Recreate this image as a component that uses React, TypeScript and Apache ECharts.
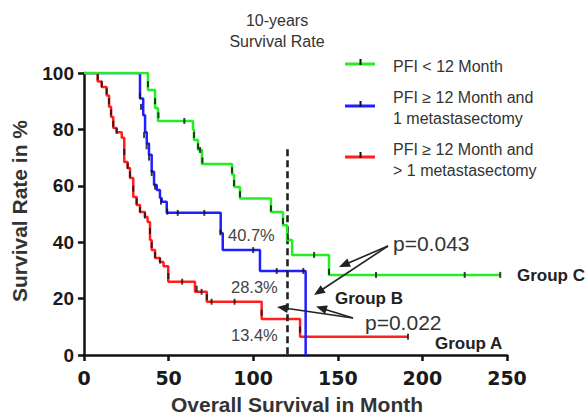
import React, { useEffect, useRef } from "react";
import * as echarts from "echarts";

// ---------- data ----------
const xTicks = [0, 50, 100, 150, 200, 250];
const yTicks = [0, 20, 40, 60, 80, 100];

// Group C: PFI < 12 Month (green)
const greenTimes = [0, 37.8, 42, 43.7, 64.4, 65, 67.4, 69.7, 87.5, 88.7, 92.2, 110.5, 117.6, 120, 123, 144.8, 246];
const greenSurv = [100, 94, 87.6, 83, 80, 76.2, 72.7, 67.7, 64, 59.6, 55.5, 50.7, 46, 40.8, 35.5, 28.4, 28.4];
const greenCensT = [37.8, 42, 44, 59.3, 65, 67.4, 68.6, 70, 87.5, 88.7, 92.2, 110.5, 117.6, 120.5, 136, 144.8, 172.6, 225, 246];
const greenCensS = [96, 90, 85, 83, 78, 74, 72.7, 69, 65.5, 61, 57, 52, 47.5, 42, 35.5, 29.5, 28.4, 28.4, 28.4];

// Group B: PFI >= 12 Month and 1 metastasectomy (blue)
const blueTimes = [0, 33.1, 35, 36.1, 37.1, 38.4, 40, 41.4, 43, 44.9, 45.9, 48.9, 80.8, 82, 104, 131];
const blueSurv = [100, 91, 85, 79, 75, 71, 65, 60.3, 58.5, 55.7, 54.3, 50.4, 43.3, 37.2, 29.8, 0];
const blueCensT = [33.1, 33.7, 35.5, 37, 38.4, 40, 42, 45.5, 49.2, 55.4, 71.1, 80.6, 100, 113.9, 129.6];
const blueCensS = [92, 88, 78, 74, 70, 64.5, 59.7, 54.4, 50.8, 50.4, 50.4, 43.5, 37.2, 29.8, 29.8];

// Group A: PFI >= 12 Month and > 1 metastasectomy (red)
const redTimes = [0, 8.1, 10.5, 13.4, 14.8, 16, 17.3, 19.3, 22.3, 23.8, 25.8, 27.2, 29.1, 31.1, 33.1, 36, 37.6, 39, 40, 42, 44.9, 47, 49.8, 65.6, 72.6, 105, 127.7, 191.5];
const redSurv = [100, 97, 95, 92, 88, 84.4, 80.5, 79, 77, 68.4, 66.3, 62.8, 56, 53.2, 50.7, 48.9, 47.2, 40.8, 37.2, 34.4, 33, 31.5, 26, 22.4, 18.9, 12.8, 6.5, 6.5];
const redCensT = [8.1, 10.5, 13.4, 14.8, 16, 17.3, 19.3, 23.8, 25.8, 27.2, 29.1, 31.1, 33.1, 36, 39, 40, 42, 44.9, 49.8, 58, 66.6, 69.5, 72.6, 75.4, 89, 105, 127.7, 191.5];
const redCensS = [98.5, 96, 93.5, 90, 86, 82, 79.5, 72, 67, 64, 59, 54.5, 51.5, 49.5, 44, 39, 35.5, 33.5, 28, 26, 23.5, 22.4, 20.5, 18.9, 18.9, 15, 9, 6.5];

const refMonth = 120;
const refTop = 73;

const legendNames = ["PFI < 12 Month", "PFI \u2265 12 Month and\n1 metastasectomy", "PFI \u2265 12 Month and\n> 1 metastasectomy"];
const rateLabels = ["40.7%", "28.3%", "13.4%"];
const pLabels = ["p=0.043", "p=0.022"];
const groupLabels = ["Group C", "Group B", "Group A"];

const GREEN = "#22ee22";
const BLUE = "#1f1fff";
const RED = "#ff1f1f";
const FONT = '"Liberation Sans", Arial, Helvetica, sans-serif';
const WIDE_FONT = '"DejaVu Sans", "Liberation Sans", Arial, sans-serif';

const zip = (a: number[], b: number[]) => a.map((v, i) => [v, b[i]]);

function arrow(fx: number, fy: number, tx: number, ty: number) {
  const dx = tx - fx;
  const dy = ty - fy;
  const len = Math.sqrt(dx * dx + dy * dy);
  const ux = dx / len;
  const uy = dy / len;
  const L = 11;
  const W = 4.5;
  const bx = tx - ux * L;
  const by = ty - uy * L;
  return [
    {
      type: "line",
      shape: { x1: fx, y1: fy, x2: bx + ux * 2, y2: by + uy * 2 },
      style: { stroke: "#222", lineWidth: 1.6 },
      z: 20,
    },
    {
      type: "polygon",
      shape: {
        points: [
          [tx, ty],
          [bx - uy * W, by + ux * W],
          [bx + uy * W, by - ux * W],
        ],
      },
      style: { fill: "#222" },
      z: 20,
    },
  ];
}

export default function App() {
  const ref = useRef<HTMLDivElement>(null);

  useEffect(() => {
    document.body.style.margin = "0";
    if (!ref.current) return;
    const chart = echarts.init(ref.current, null, { renderer: "svg" });

    const censor = (t: number[], s: number[], name: string) => ({
      type: "scatter",
      name,
      data: zip(t, s),
      symbol: "rect",
      symbolSize: [2, 6],
      itemStyle: { color: "#111" },
      z: 10,
      silent: true,
    });

    const legendItem = (color: string, lineY: number, text: string, textY: number) => [
      {
        type: "line",
        shape: { x1: 345, y1: lineY, x2: 375, y2: lineY },
        style: { stroke: color, lineWidth: 3 },
      },
      {
        type: "rect",
        shape: { x: 359.5, y: lineY - 5, width: 2, height: 6 },
        style: { fill: "#111" },
      },
      {
        type: "text",
        x: 393,
        y: textY,
        style: {
          text,
          fontSize: 16,
          fontFamily: FONT,
          fill: "#333",
          lineHeight: 21,
          verticalAlign: "middle",
          align: "left",
        },
      },
    ];

    const txt = (x: number, y: number, text: string, size: number, bold: boolean, color: string, align = "left") => ({
      type: "text",
      x,
      y,
      z: 20,
      style: {
        text,
        fontSize: size,
        fontWeight: bold ? "bold" : "normal",
        fontFamily: FONT,
        fill: color,
        align,
        verticalAlign: "middle",
      },
    });

    chart.setOption({
      animation: false,
      backgroundColor: "#ffffff",
      grid: { left: 84, right: 81, top: 73, bottom: 59, containLabel: false },
      xAxis: {
        type: "value",
        min: 0,
        max: 250,
        interval: 50,
        splitLine: { show: false },
        axisLine: { onZero: false, lineStyle: { color: "#111", width: 2.5 } },
        axisTick: { show: true, length: 6, lineStyle: { color: "#111", width: 2.5 } },
        axisLabel: {
          color: "#1a1a1a",
          fontSize: 19,
          fontWeight: "bold",
          fontFamily: WIDE_FONT,
          margin: 13,
          formatter: (v: number) => (xTicks.includes(v) ? String(v) : ""),
        },
      },
      yAxis: {
        type: "value",
        min: 0,
        max: 100,
        interval: 20,
        splitLine: { show: false },
        axisLine: { show: true, onZero: false, lineStyle: { color: "#111", width: 2.5 } },
        axisTick: { show: true, length: 6, lineStyle: { color: "#111", width: 2.5 } },
        axisLabel: {
          color: "#1a1a1a",
          fontSize: 19,
          fontWeight: "bold",
          fontFamily: FONT,
          margin: 10,
          formatter: (v: number) => (yTicks.includes(v) ? String(v) : ""),
        },
      },
      series: [
        {
          type: "line",
          name: "red",
          step: "end",
          data: zip(redTimes, redSurv),
          showSymbol: false,
          lineStyle: { color: RED, width: 2.5 },
          z: 3,
          silent: true,
        },
        {
          type: "line",
          name: "blue",
          step: "end",
          data: zip(blueTimes, blueSurv),
          showSymbol: false,
          lineStyle: { color: BLUE, width: 2.5 },
          z: 4,
          silent: true,
        },
        {
          type: "line",
          name: "green",
          step: "end",
          data: zip(greenTimes, greenSurv),
          showSymbol: false,
          lineStyle: { color: GREEN, width: 2.5 },
          z: 5,
          silent: true,
        },
        censor(redCensT, redCensS, "redC"),
        censor(blueCensT, blueCensS, "blueC"),
        censor(greenCensT, greenCensS, "greenC"),
        {
          type: "line",
          name: "ref",
          data: [],
          z: 12,
          markLine: {
            silent: true,
            symbol: ["none", "none"],
            label: { show: false },
            lineStyle: { color: "#222", width: 2.6, type: [7, 4] },
            data: [[{ coord: [refMonth, refTop] }, { coord: [refMonth, 0] }]],
          },
        },
      ],
      graphic: [
        txt(277, 20, "10-years", 16, false, "#333", "center"),
        txt(277, 41, "Survival Rate", 16, false, "#333", "center"),
        ...legendItem(GREEN, 64, legendNames[0], 66),
        ...legendItem(BLUE, 106, legendNames[1], 108),
        ...legendItem(RED, 157, legendNames[2], 160),
        {
          type: "text",
          x: 19,
          y: 211,
          rotation: Math.PI / 2,
          style: {
            text: "Survival Rate in %",
            fontSize: 21,
            fontWeight: "bold",
            fontFamily: FONT,
            fill: "#333",
            align: "center",
            verticalAlign: "middle",
          },
        },
        txt(297, 404, "Overall Survival in Month", 21, true, "#333", "center"),
        txt(228, 235, rateLabels[0], 16.5, false, "#444"),
        txt(231, 287, rateLabels[1], 16.5, false, "#444"),
        txt(231, 335, rateLabels[2], 16.5, false, "#444"),
        txt(393, 243, pLabels[0], 21, false, "#333"),
        txt(365, 322, pLabels[1], 21, false, "#333"),
        txt(517, 275, groupLabels[0], 17, true, "#222"),
        txt(335, 298, groupLabels[1], 17, true, "#222"),
        txt(435, 343, groupLabels[2], 17, true, "#222"),
        ...arrow(388, 246, 339, 267),
        ...arrow(388, 246, 314, 295),
        ...arrow(353, 318, 316, 306.5),
        ...arrow(353, 318, 277, 307),
      ],
    });

    return () => chart.dispose();
  }, []);

  return <div ref={ref} style={{ width: 588, height: 414 }} />;
}
